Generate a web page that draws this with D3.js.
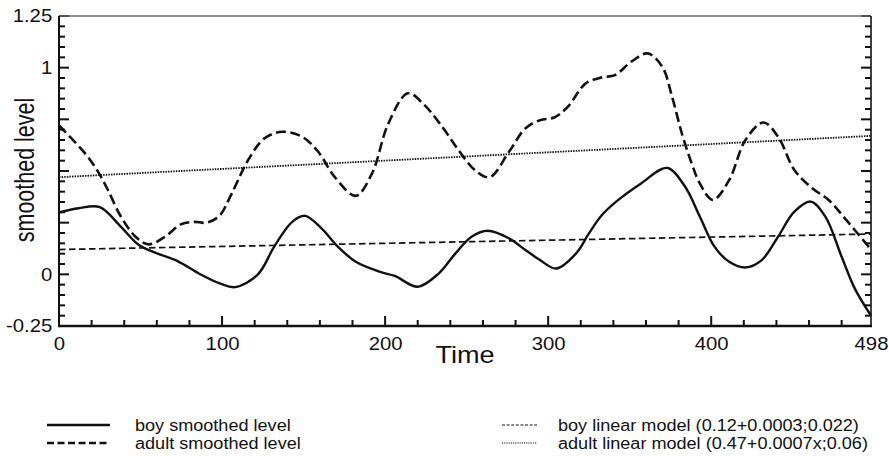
<!DOCTYPE html>
<html>
<head>
<meta charset="utf-8">
<script src="https://cdn.jsdelivr.net/npm/d3@7"></script>
<style>
  html, body { margin: 0; padding: 0; background: #fff; }
  svg { display: block; }
  text { font-family: "Liberation Sans", Arial, sans-serif; fill: #111; }
</style>
</head>
<body>
<svg id="chart" width="889" height="456"></svg>
<script>
// Smoothed series (time, level)
const boyTimes = [0,12,25,38,49,59,73,86,99,108,122,132,143,151,161,171,182,197,206,220,233,243,253,263,276,286,295,305,317,325,333,343,357,373,384,393,402,411,421,431,441,451,461,470,480,488,498];
const boyLevel = [0.30,0.32,0.325,0.23,0.142,0.105,0.063,0.003,-0.045,-0.062,0.0,0.134,0.254,0.283,0.222,0.134,0.061,0.012,-0.008,-0.06,0.005,0.10,0.182,0.211,0.174,0.118,0.069,0.028,0.10,0.198,0.287,0.36,0.44,0.515,0.424,0.28,0.134,0.061,0.033,0.069,0.182,0.303,0.352,0.279,0.085,-0.068,-0.2];

const adultTimes = [0,16,24,30,38,47,55,65,75,83,90,98,106,116,126,137,149,159,169,182,192,202,214,224,235,245,255,264,276,286,295,304,312,323,333,341,351,361,370,376,382,388,393,401,411,421,432,441,451,462,472,482,498];
const adultLevel = [0.72,0.585,0.496,0.408,0.279,0.182,0.145,0.182,0.243,0.254,0.25,0.28,0.392,0.553,0.658,0.69,0.666,0.593,0.472,0.38,0.489,0.73,0.876,0.82,0.714,0.601,0.505,0.47,0.593,0.706,0.746,0.76,0.81,0.924,0.953,0.964,1.029,1.069,1.004,0.859,0.682,0.537,0.44,0.36,0.456,0.65,0.735,0.666,0.505,0.416,0.36,0.271,0.12];

// Fitted linear models, evaluated at the ends of the time range
const modelTimes = [0, 498];
const boyModel = [0.12, 0.195];
const adultModel = [0.47, 0.67];

// Axis ticks
const xTickLabels = [0, 100, 200, 300, 400, 498];
const yTickLabels = [-0.25, 0, 1, 1.25];

const legendItems = [
  { label: "boy smoothed level", key: "boy" },
  { label: "adult smoothed level", key: "adult" },
  { label: "boy linear model (0.12+0.0003;0.022)", key: "boyModel" },
  { label: "adult linear model (0.47+0.0007x;0.06)", key: "adultModel" }
];

const styles = {
  boy:        { width: 2.4, dash: null,     legendDash: null },
  adult:      { width: 2.6, dash: "10,4.5", legendDash: "7,3.5" },
  boyModel:   { width: 1.7, dash: "6.5,3.5", legendDash: "3,1.6" },
  adultModel: { width: 1.8, dash: "1.5,1.1", legendDash: "1.2,1" }
};

const svg = d3.select("#chart");
const m = { left: 59, right: 871, top: 16, bottom: 326 };
const x = d3.scaleLinear().domain([0, 498]).range([m.left, m.right]);
const y = d3.scaleLinear().domain([-0.25, 1.25]).range([m.bottom, m.top]);
const stretch = 1.13;

// minor / major tick values (minor every 20 / 0.05, major every 100 / 0.25)
const xMinor = d3.range(20, 498, 20).filter(v => v % 100 !== 0);
const xMajor = d3.range(100, 401, 100);
const yMinor = d3.range(-0.2, 1.2501, 0.05).map(v => +v.toFixed(2)).filter(v => Math.abs(v * 4 - Math.round(v * 4)) > 1e-6);
const yMajor = d3.range(0, 1.2501, 0.25).map(v => +v.toFixed(2));

const fmt = d => (d === 0 || d === 1) ? String(d) : d.toFixed(2);

// Inward tick marks
const tickColor = "#111", tickWidth = 2;
const tickG = svg.append("g").attr("class", "tickmarks");
const xTickData = xMinor.map(v => ({ v, len: 6 })).concat(xMajor.map(v => ({ v, len: 10 })));
tickG.selectAll("line.xtick").data(xTickData)
  .join("line")
  .attr("class", "xtick")
  .attr("x1", d => x(d.v)).attr("x2", d => x(d.v))
  .attr("y1", m.bottom).attr("y2", d => m.bottom - d.len)
  .attr("stroke", tickColor).attr("stroke-width", tickWidth);
const yTickData = yMinor.map(v => ({ v, len: 6 })).concat(yMajor.map(v => ({ v, len: 10 })));
tickG.selectAll("line.ltick").data(yTickData)
  .join("line")
  .attr("class", "ltick")
  .attr("x1", m.left).attr("x2", d => m.left + d.len)
  .attr("y1", d => y(d.v)).attr("y2", d => y(d.v))
  .attr("stroke", tickColor).attr("stroke-width", tickWidth);
tickG.selectAll("line.rtick").data(yTickData)
  .join("line")
  .attr("class", "rtick")
  .attr("x1", m.right).attr("x2", d => m.right - d.len)
  .attr("y1", d => y(d.v)).attr("y2", d => y(d.v))
  .attr("stroke", tickColor).attr("stroke-width", tickWidth);

function styleLabels(g) {
  g.select(".domain").remove();
  g.selectAll(".tick line").remove();
  g.selectAll("text").attr("font-size", 18).attr("fill", "#111")
    .attr("font-family", "Liberation Sans, Arial, sans-serif")
    .attr("transform", `scale(${stretch},1)`);
}

// Tick labels
svg.append("g").attr("transform", `translate(0,${m.bottom})`)
  .call(d3.axisBottom(x).tickValues(xTickLabels).tickSize(0).tickPadding(11).tickFormat(d3.format("d")))
  .call(styleLabels);
svg.append("g").attr("transform", `translate(${m.left},0)`)
  .call(d3.axisLeft(y).tickValues(yTickLabels).tickSize(0).tickPadding(6).tickFormat(fmt))
  .call(styleLabels);

// Frame
svg.append("line").attr("x1", m.left).attr("x2", m.right).attr("y1", m.top).attr("y2", m.top)
  .attr("stroke", "#6a6a6a").attr("stroke-width", 1.6);
svg.append("line").attr("x1", m.left).attr("x2", m.left).attr("y1", m.top).attr("y2", m.bottom)
  .attr("stroke", "#111").attr("stroke-width", 2);
svg.append("line").attr("x1", m.right).attr("x2", m.right).attr("y1", m.top).attr("y2", m.bottom)
  .attr("stroke", "#111").attr("stroke-width", 1.6);
svg.append("line").attr("x1", m.left - 1).attr("x2", m.right + 1).attr("y1", m.bottom).attr("y2", m.bottom)
  .attr("stroke", "#111").attr("stroke-width", 2.6);

// Series
const smooth = d3.line().x(d => x(d[0])).y(d => y(d[1])).curve(d3.curveCatmullRom.alpha(0.5));
const straight = d3.line().x(d => x(d[0])).y(d => y(d[1]));
const series = {
  boyModel: d3.zip(modelTimes, boyModel),
  adultModel: d3.zip(modelTimes, adultModel),
  boy: d3.zip(boyTimes, boyLevel),
  adult: d3.zip(adultTimes, adultLevel)
};
const plot = svg.append("g");
["adultModel", "boyModel", "adult", "boy"].forEach(k => {
  plot.append("path")
    .attr("d", (k.endsWith("Model") ? straight : smooth)(series[k]))
    .attr("fill", "none")
    .attr("stroke", "#111")
    .attr("stroke-width", styles[k].width)
    .attr("stroke-dasharray", styles[k].dash)
    .attr("stroke-linejoin", "round");
});

// Axis titles
svg.append("text")
  .attr("transform", `translate(465,363) scale(${stretch},1)`)
  .attr("text-anchor", "middle").attr("font-size", 24).text("Time");
svg.append("text")
  .attr("transform", `translate(34,170) rotate(-90) scale(1,1.3)`)
  .attr("text-anchor", "middle").attr("font-size", 21.5).text("smoothed level");

// Legend
const legendPos = [
  { x1: 47, x2: 110, tx: 135, y: 425 },
  { x1: 47, x2: 110, tx: 135, y: 443 },
  { x1: 502, x2: 537, tx: 558, y: 425 },
  { x1: 502, x2: 537, tx: 558, y: 443 }
];
const legend = svg.append("g");
legendItems.forEach((item, i) => {
  const p = legendPos[i], st = styles[item.key];
  legend.append("line")
    .attr("x1", p.x1).attr("x2", p.x2).attr("y1", p.y).attr("y2", p.y)
    .attr("stroke", "#111")
    .attr("stroke-width", item.key.endsWith("Model") ? 1.2 : 2.6)
    .attr("stroke-dasharray", st.legendDash);
  legend.append("text")
    .attr("transform", `translate(${p.tx},${p.y}) scale(${stretch},1)`)
    .attr("dy", "0.36em").attr("font-size", 16).text(item.label);
});
</script>
</body>
</html>
